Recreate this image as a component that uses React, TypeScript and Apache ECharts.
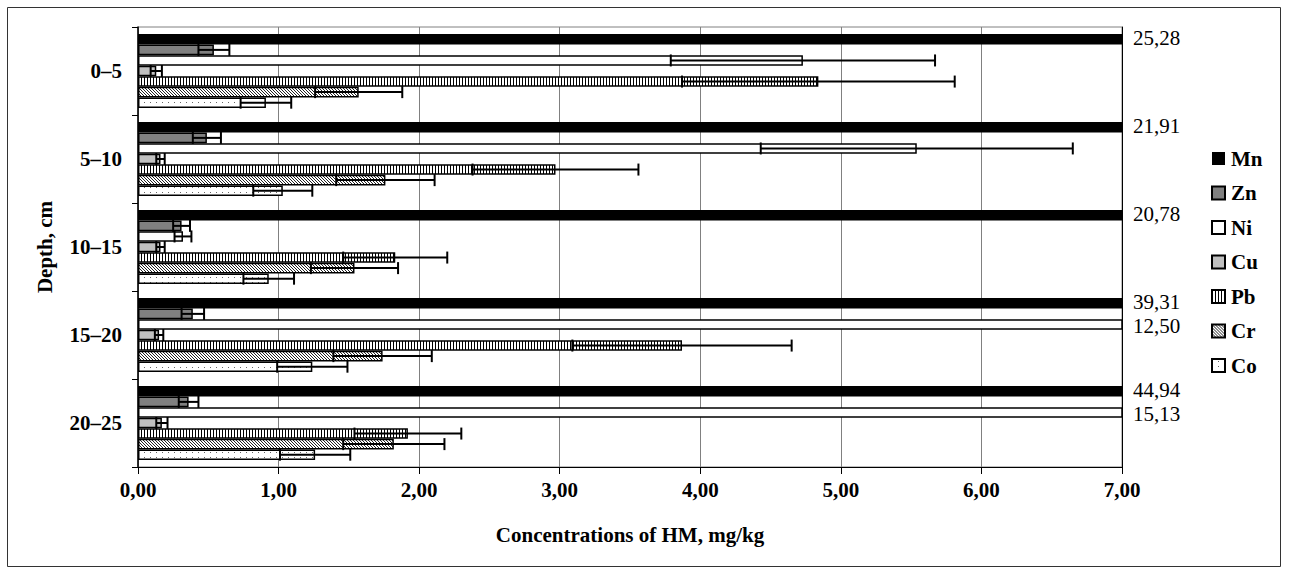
import React, { useEffect, useRef } from "react";
import * as echarts from "echarts";

const depths = ["0–5", "5–10", "10–15", "15–20", "20–25"];
const metals = ["Mn", "Zn", "Ni", "Cu", "Pb", "Cr", "Co"];

const mnValues = [25.28, 21.91, 20.78, 39.31, 44.94];
const znValues = [0.54, 0.49, 0.31, 0.39, 0.36];
const niValues = [4.73, 5.54, 0.32, 12.5, 15.13];
const cuValues = [0.13, 0.16, 0.16, 0.15, 0.17];
const pbValues = [4.84, 2.97, 1.83, 3.87, 1.92];
const crValues = [1.57, 1.76, 1.54, 1.74, 1.82];
const coValues = [0.91, 1.03, 0.93, 1.24, 1.26];

const mnErrors = [null, null, null, null, null];
const znErrors = [0.11, 0.1, 0.06, 0.08, 0.07];
const niErrors = [0.94, 1.11, 0.06, null, null];
const cuErrors = [0.04, 0.03, 0.03, 0.03, 0.04];
const pbErrors = [0.97, 0.59, 0.37, 0.78, 0.38];
const crErrors = [0.31, 0.35, 0.31, 0.35, 0.36];
const coErrors = [0.18, 0.21, 0.18, 0.25, 0.25];

const X_MIN = 0;
const X_MAX = 7;
const X_INTERVAL = 1;

const valuesByMetal = [mnValues, znValues, niValues, cuValues, pbValues, crValues, coValues];
const errorsByMetal = [mnErrors, znErrors, niErrors, cuErrors, pbErrors, crErrors, coErrors];

const FONT = "'Liberation Serif', 'Times New Roman', serif";
const FS = 21;
const GAP = 0.16;

const fmt = (v: number) => v.toFixed(2).replace(".", ",");

function makePattern(kind: string): any {
  const c = document.createElement("canvas");
  const ctx = c.getContext("2d")!;
  if (kind === "vertical") {
    c.width = 3;
    c.height = 3;
    ctx.fillStyle = "#fff";
    ctx.fillRect(0, 0, 3, 3);
    ctx.fillStyle = "#000";
    ctx.fillRect(0, 0, 1, 3);
  } else if (kind === "diagonal") {
    c.width = 3;
    c.height = 3;
    ctx.fillStyle = "#fff";
    ctx.fillRect(0, 0, 3, 3);
    ctx.fillStyle = "#222";
    ctx.fillRect(0, 0, 1, 1);
    ctx.fillRect(1, 1, 1, 1);
    ctx.fillRect(2, 2, 1, 1);
  } else {
    c.width = 6;
    c.height = 5;
    ctx.fillStyle = "#fff";
    ctx.fillRect(0, 0, 6, 5);
    ctx.fillStyle = "#666";
    ctx.fillRect(0, 2, 1, 1);
  }
  return { image: c, repeat: "repeat" };
}

export default function App() {
  const ref = useRef<HTMLDivElement>(null);

  useEffect(() => {
    if (!ref.current) return;
    const chart = echarts.init(ref.current, null, { renderer: "svg" });

    const fills: any[] = [
      "#000000",
      "#808080",
      "#ffffff",
      "#c0c0c0",
      makePattern("vertical"),
      makePattern("diagonal"),
      makePattern("dots"),
    ];

    const barSeries = metals.map((m, i) => ({
      name: m,
      type: "bar",
      data: valuesByMetal[i],
      barGap: "0%",
      barCategoryGap: GAP * 100 + "%",
      clip: true,
      itemStyle: {
        color: fills[i],
        borderColor: "#000",
        borderWidth: i === 0 ? 0 : 1.5,
      },
      emphasis: { disabled: true },
      z: 2,
    }));

    const errData: any[] = [];
    errorsByMetal.forEach((errs, m) => {
      errs.forEach((e, c) => {
        if (e != null) errData.push([valuesByMetal[m][c], c, e, m]);
      });
    });

    const overflowData: any[] = [];
    valuesByMetal.forEach((vals, m) => {
      vals.forEach((v, c) => {
        if (v > X_MAX) overflowData.push([X_MAX, c, v, m]);
      });
    });

    const barCenter = (api: any, c: number, m: number) => {
      const pt = api.coord([0, c]);
      const band = api.size([0, 1])[1];
      const group = band * (1 - GAP);
      const bw = group / metals.length;
      return pt[1] - group / 2 + (m + 0.5) * bw;
    };

    const boldText = { fontFamily: FONT, fontSize: FS, fontWeight: "bold", color: "#000" };

    const option: any = {
      animation: false,
      textStyle: { fontFamily: FONT },
      grid: {
        left: 138,
        right: 167,
        top: 27,
        bottom: 108,
        show: true,
        borderColor: "#808080",
        borderWidth: 1,
      },
      legend: {
        data: metals,
        orient: "vertical",
        left: 1206,
        top: 143,
        itemWidth: 13,
        itemHeight: 13,
        itemGap: 13.5,
        icon: "rect",
        selectedMode: false,
        textStyle: { ...boldText, lineHeight: 21, padding: [0, 0, 0, 1] },
      },
      xAxis: {
        type: "value",
        min: X_MIN,
        max: X_MAX,
        interval: X_INTERVAL,
        name: "Concentrations of HM, mg/kg",
        nameLocation: "middle",
        nameGap: 57,
        nameTextStyle: boldText,
        axisLine: { show: true, lineStyle: { color: "#000", width: 1 } },
        axisTick: { show: true, length: 7, lineStyle: { color: "#000" } },
        axisLabel: {
          formatter: (v: number) => fmt(v),
          ...boldText,
          margin: 12,
        },
        splitLine: { show: true, lineStyle: { color: "#808080", width: 1 } },
      },
      yAxis: [
        {
          type: "category",
          data: depths,
          inverse: true,
          name: "Depth, cm",
          nameLocation: "middle",
          nameGap: 83,
          nameRotate: 90,
          nameTextStyle: boldText,
          axisLine: { show: true, lineStyle: { color: "#000", width: 1.5 } },
          axisTick: { show: true, length: 6, lineStyle: { color: "#000" } },
          axisLabel: { ...boldText, margin: 16 },
          splitLine: { show: false },
        },
        {
          type: "category",
          data: depths,
          inverse: true,
          position: "right",
          axisLine: { show: true, lineStyle: { color: "#000", width: 1 } },
          axisTick: { show: false },
          axisLabel: { show: false },
          splitLine: { show: false },
        },
      ],
      graphic: [
        {
          type: "rect",
          shape: { x: 7.5, y: 7.5, width: 1273, height: 559 },
          style: { fill: "none", stroke: "#333", lineWidth: 1 },
          silent: true,
        },
      ],
      series: [
        ...barSeries,
        {
          type: "custom",
          name: "errors",
          data: errData,
          encode: { x: 0, y: 1 },
          z: 5,
          silent: true,
          renderItem: (params: any, api: any) => {
            const v = api.value(0);
            const c = api.value(1);
            const e = api.value(2);
            const m = api.value(3);
            const y = barCenter(api, c, m);
            const x1 = api.coord([v - e, c])[0];
            const x2 = api.coord([v + e, c])[0];
            const half = 6;
            const st = { stroke: "#000", lineWidth: 2 };
            return {
              type: "group",
              children: [
                { type: "line", shape: { x1, y1: y, x2, y2: y }, style: st },
                { type: "line", shape: { x1, y1: y - half, x2: x1, y2: y + half }, style: st },
                { type: "line", shape: { x1: x2, y1: y - half, x2, y2: y + half }, style: st },
              ],
            };
          },
        },
        {
          type: "custom",
          name: "overflow",
          data: overflowData,
          encode: { x: 0, y: 1 },
          z: 5,
          silent: true,
          renderItem: (params: any, api: any) => {
            const c = api.value(1);
            const v = api.value(2);
            const m = api.value(3);
            const x = api.coord([api.value(0), c])[0];
            const y = barCenter(api, c, m) + (m === 0 ? -1.5 : 2);
            return {
              type: "text",
              x: x + 11,
              y,
              style: {
                text: fmt(v),
                fill: "#000",
                font: `${FS}px ${FONT}`,
                verticalAlign: "middle",
                align: "left",
              },
            };
          },
        },
      ],
    };

    chart.setOption(option);
    return () => chart.dispose();
  }, []);

  return (
    <div
      ref={ref}
      style={{ position: "fixed", left: 0, top: 0, width: 1289, height: 575, background: "#fff" }}
    />
  );
}
